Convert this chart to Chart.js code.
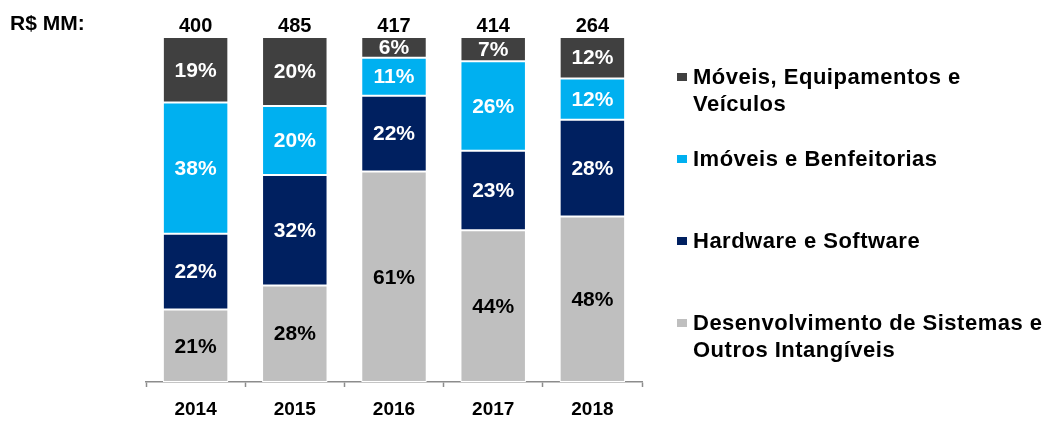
<!DOCTYPE html>
<html>
<head>
<meta charset="utf-8">
<script src="https://cdn.jsdelivr.net/npm/chart.js@4"></script>
<style>
  html, body { margin: 0; padding: 0; background: #ffffff; }
  canvas { display: block; }
</style>
</head>
<body>
<canvas id="capex" width="1054" height="421"></canvas>
<script>
// Years on the category axis
const years = ['2014', '2015', '2016', '2017', '2018'];
// Total investment per year (R$ MM), shown above each column
const totals = [400, 485, 417, 414, 264];
// Share of each year's total (%), stacked bottom to top
const desenvolvimento = [21, 28, 61, 44, 48];
const hardware = [22, 32, 22, 23, 28];
const imoveis = [38, 20, 11, 26, 12];
const moveis = [19, 20, 6, 7, 12];
// Legend text, one array entry per printed line
const labelMoveis = ['Móveis, Equipamentos e', 'Veículos'];
const labelImoveis = ['Imóveis e Benfeitorias'];
const labelHardware = ['Hardware e Software'];
const labelDesenv = ['Desenvolvimento de Sistemas e', 'Outros Intangíveis'];
const unitLabel = 'R$ MM:';

const FONT = '"Liberation Sans", Arial, Helvetica, sans-serif';

const datasets = [
  { label: labelDesenv, data: desenvolvimento, backgroundColor: '#BFBFBF', textColor: '#000000' },
  { label: labelHardware, data: hardware, backgroundColor: '#002060', textColor: '#ffffff' },
  { label: labelImoveis, data: imoveis, backgroundColor: '#00B0F0', textColor: '#ffffff' },
  { label: labelMoveis, data: moveis, backgroundColor: '#404040', textColor: '#ffffff' }
].map(d => Object.assign(d, {
  borderColor: '#ffffff',
  borderWidth: 1,
  borderSkipped: false,
  categoryPercentage: 1,
  barPercentage: 0.66
}));

// Percent labels inside the segments, totals above the columns, unit caption
const annotations = {
  id: 'annotations',
  afterDatasetsDraw(chart) {
    const ctx = chart.ctx;
    ctx.save();
    ctx.textAlign = 'center';
    ctx.textBaseline = 'middle';
    ctx.font = 'bold 21px ' + FONT;
    chart.data.datasets.forEach((ds, i) => {
      ctx.fillStyle = ds.textColor;
      chart.getDatasetMeta(i).data.forEach((bar, j) => {
        const yMid = (bar.y + bar.base) / 2;
        ctx.fillText(ds.data[j] + '%', bar.x, yMid + 1);
      });
    });
    const xs = chart.scales.x;
    const yTop = chart.scales.y.getPixelForValue(100);
    ctx.fillStyle = '#000000';
    ctx.font = 'bold 20px ' + FONT;
    totals.forEach((t, j) => {
      ctx.fillText(String(t), xs.getPixelForValue(j), yTop - 11);
    });
    ctx.textAlign = 'left';
    ctx.font = 'bold 21px ' + FONT;
    ctx.fillText(unitLabel, 10, 24);
    ctx.restore();
  }
};

// Legend on the right, top item first, with wrapped multi-line entries
const sideLegend = {
  id: 'sideLegend',
  afterDraw(chart) {
    const ctx = chart.ctx;
    const area = chart.chartArea;
    const boxX = area.right + 35;
    const textX = boxX + 16;
    const firstY = area.top + 40;
    const step = 82;
    const lineH = 27;
    ctx.save();
    ctx.font = 'bold 22px ' + FONT;
    if ('letterSpacing' in ctx) ctx.letterSpacing = '0.5px';
    ctx.textAlign = 'left';
    ctx.textBaseline = 'middle';
    const ordered = chart.data.datasets.slice().reverse();
    ordered.forEach((ds, k) => {
      const y = firstY + k * step;
      ctx.fillStyle = ds.backgroundColor;
      ctx.fillRect(boxX, y - 4, 10, 8);
      ctx.fillStyle = '#000000';
      ds.label.forEach((line, n) => {
        ctx.fillText(line, textX, y + 1 + n * lineH);
      });
    });
    ctx.restore();
  }
};

new Chart(document.getElementById('capex'), {
  type: 'bar',
  data: { labels: years, datasets },
  options: {
    responsive: false,
    animation: false,
    devicePixelRatio: 1,
    layout: { padding: { left: 146, right: 412, top: 37, bottom: 0 } },
    plugins: {
      legend: { display: false },
      tooltip: { enabled: false }
    },
    scales: {
      x: {
        stacked: true,
        afterFit(scale) { scale.height = 39; },
        grid: {
          offset: true,
          drawOnChartArea: false,
          drawTicks: true,
          tickLength: 5,
          tickWidth: 1.5,
          color: '#8c8c8c'
        },
        border: { display: true, color: '#8c8c8c', width: 1.5 },
        ticks: {
          color: '#000000',
          padding: 11,
          font: { family: FONT, size: 19, weight: 'bold' }
        }
      },
      y: {
        stacked: true,
        display: false,
        min: 0,
        max: 100
      }
    }
  },
  plugins: [annotations, sideLegend]
});
</script>
</body>
</html>
